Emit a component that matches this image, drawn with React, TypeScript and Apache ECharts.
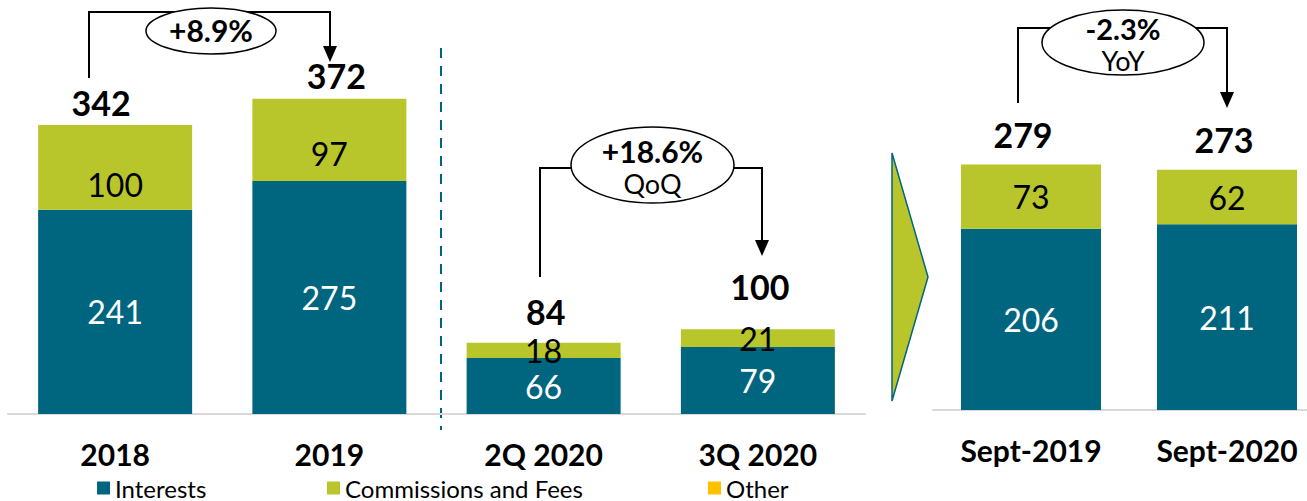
import React, { useEffect, useRef } from "react";
import * as echarts from "echarts";

// ---- Data ----
const periodCategories = ["2018", "2019", "2Q 2020", "3Q 2020"];
const periodInterests = [241, 275, 66, 79];
const periodCommissions = [100, 97, 18, 21];
const periodOther = [0, 0, 0, 0];
const periodTotals = [342, 372, 84, 100];

const septCategories = ["Sept-2019", "Sept-2020"];
const septInterests = [206, 211];
const septCommissions = [73, 62];
const septOther = [0, 0];
const septTotals = [279, 273];

const changeAnnual = "+8.9%";
const changeQoQ = "+18.6%";
const changeYoY = "-2.3%";

// ---- Styling (not data) ----
const TEAL = "#00657F";
const LIME = "#B8C62C";
const YELLOW = "#FFC000";
const FONT = "Lato, 'Open Sans', sans-serif";
const periodTotalDistance = [6, 6, 14, 26];
const septTotalDistance = [13, 13];
const periodTotalShiftX = [-14, 7, 2, 2];
const septTotalShiftX = [-8, -3];
const periodCommissionShift = [17, 14, 0, 0];

export default function App() {
  const ref = useRef<HTMLDivElement>(null);

  useEffect(() => {
    if (!ref.current) return;
    const chart = echarts.init(ref.current, null, { renderer: "svg" });

    const innerLabel = (color: string) => ({
      show: true,
      position: "inside" as const,
      color,
      fontFamily: FONT,
      fontSize: 32,
      formatter: (p: any) => String(p.value?.value ?? p.value),
    });

    const totalSeries = (
      name: string,
      values: number[],
      totals: number[],
      dist: number[],
      shiftX: number[],
      axis: number
    ) => ({
      name,
      type: "bar",
      stack: "s" + axis,
      xAxisIndex: axis,
      yAxisIndex: axis,
      barWidth: axis === 0 ? 154 : 140,
      itemStyle: { color: YELLOW },
      data: values.map((v, i) => ({
        value: v,
        label: {
          show: true,
          position: "top",
          distance: dist[i],
          offset: [shiftX[i], 0],
          formatter: String(totals[i]),
          color: "#000",
          fontFamily: FONT,
          fontWeight: "bold",
          fontSize: 34,
          lineHeight: 34,
        },
      })),
    });

    const arrowHead = (x: number, yTip: number) => ({
      type: "polygon",
      shape: {
        points: [
          [x - 7, yTip - 16],
          [x + 7, yTip - 16],
          [x, yTip],
        ],
      },
      style: { fill: "#000" },
      z: 10,
    });
    const seg = (x1: number, y1: number, x2: number, y2: number) => ({
      type: "line",
      shape: { x1, y1, x2, y2 },
      style: { stroke: "#000", lineWidth: 2 },
      z: 10,
    });
    const ellipse = (cx: number, cy: number, rx: number, ry: number) => ({
      type: "ellipse",
      shape: { cx, cy, rx, ry },
      style: { fill: "#fff", stroke: "#000", lineWidth: 1.5 },
      z: 11,
    });
    const txt = (x: number, y: number, text: string, size: number, bold: boolean) => ({
      type: "text",
      x,
      y,
      style: {
        text,
        fontFamily: FONT,
        fontSize: size,
        fontWeight: bold ? "bold" : "normal",
        fill: "#000",
        align: "center",
        verticalAlign: "middle",
      },
      z: 12,
    });

    const option: any = {
      animation: false,
      grid: [
        { left: 8, right: 442, top: 75, bottom: 87, outerBoundsMode: "none" },
        { left: 933, width: 392, top: 146, bottom: 91, outerBoundsMode: "none" },
      ],
      xAxis: [0, 1].map((i) => ({
        type: "category",
        gridIndex: i,
        data: i === 0 ? periodCategories : septCategories,
        axisTick: { show: false },
        axisLine: { show: true, lineStyle: { color: "#D9D9D9", width: 2 } },
        axisLabel: {
          color: "#000",
          fontFamily: FONT,
          fontWeight: "bold",
          fontSize: 30,
          lineHeight: 30,
          margin: 25,
        },
      })),
      yAxis: [
        { type: "value", gridIndex: 0, min: 0, max: 400, show: false, splitLine: { show: false } },
        { type: "value", gridIndex: 1, min: 0, max: 300, show: false, splitLine: { show: false } },
      ],
      legend: [
        { name: "Interests", left: 97 },
        { name: "Commissions and Fees", left: 327 },
        { name: "Other", left: 708 },
      ].map((l) => ({
        data: [l.name],
        left: l.left,
        top: 476,
        icon: "rect",
        itemWidth: 13,
        itemHeight: 13,
        padding: 0,
        selectedMode: false,
        textStyle: { fontFamily: FONT, fontSize: 24, color: "#000" },
      })),
      series: [
        {
          name: "Interests",
          type: "bar",
          stack: "s0",
          xAxisIndex: 0,
          yAxisIndex: 0,
          barWidth: 154,
          itemStyle: { color: TEAL },
          label: innerLabel("#fff"),
          data: periodInterests,
        },
        {
          name: "Commissions and Fees",
          type: "bar",
          stack: "s0",
          xAxisIndex: 0,
          yAxisIndex: 0,
          barWidth: 154,
          itemStyle: { color: LIME },
          label: innerLabel("#000"),
          data: periodCommissions.map((v, i) => ({
            value: v,
            label: { offset: [0, periodCommissionShift[i]] },
          })),
        },
        totalSeries("Other", periodOther, periodTotals, periodTotalDistance, periodTotalShiftX, 0),
        {
          name: "Interests",
          type: "bar",
          stack: "s1",
          xAxisIndex: 1,
          yAxisIndex: 1,
          barWidth: 140,
          itemStyle: { color: TEAL },
          label: innerLabel("#fff"),
          data: septInterests,
        },
        {
          name: "Commissions and Fees",
          type: "bar",
          stack: "s1",
          xAxisIndex: 1,
          yAxisIndex: 1,
          barWidth: 140,
          itemStyle: { color: LIME },
          label: innerLabel("#000"),
          data: septCommissions,
        },
        totalSeries("Other", septOther, septTotals, septTotalDistance, septTotalShiftX, 1),
      ],
      graphic: [
        // dashed separator
        {
          type: "line",
          shape: { x1: 441, y1: 48, x2: 441, y2: 430 },
          style: { stroke: TEAL, lineWidth: 2, lineDash: [10, 8] },
        },
        // chevron
        {
          type: "polygon",
          shape: { points: [[892, 153], [928, 277], [892, 401]] },
          style: { fill: LIME, stroke: TEAL, lineWidth: 1.5 },
        },
        // annual bracket
        seg(89, 78, 89, 12),
        seg(88, 12, 331, 12),
        seg(330, 12, 330, 48),
        arrowHead(330, 62),
        ellipse(211, 31, 65, 23),
        txt(211, 30, changeAnnual, 30, true),
        // QoQ bracket
        seg(540, 277, 540, 168),
        seg(539, 168, 763, 168),
        seg(762, 168, 762, 242),
        arrowHead(762, 256),
        ellipse(652.5, 165, 81.5, 38),
        txt(652.5, 151, changeQoQ, 30, true),
        txt(652.5, 183, "QoQ", 27, false),
        // YoY bracket
        seg(1018, 103, 1018, 28),
        seg(1017, 28, 1228, 28),
        seg(1227, 28, 1227, 94),
        arrowHead(1227, 108),
        ellipse(1123, 42.5, 81, 32.5),
        txt(1123, 28, changeYoY, 29, true),
        txt(1123, 60, "YoY", 27, false),
      ],
    };

    chart.setOption(option);
    return () => chart.dispose();
  }, []);

  return (
    <div
      ref={ref}
      style={{ position: "fixed", left: 0, top: 0, width: 1307, height: 501, background: "#fff" }}
    />
  );
}
